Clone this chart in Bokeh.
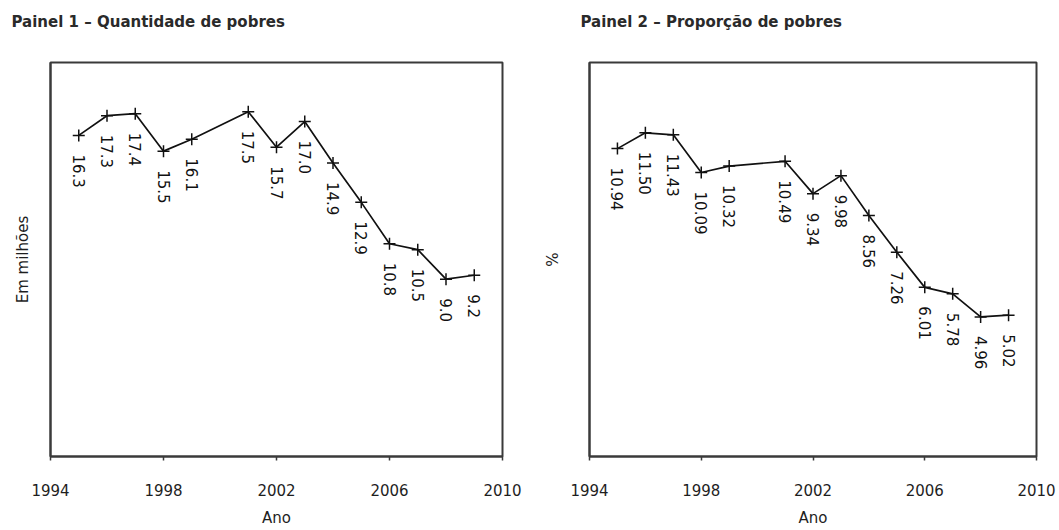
import math
from bokeh.plotting import figure
from bokeh.models import FixedTicker, Range1d, ColumnDataSource, Title
from bokeh.layouts import row
from bokeh.embed import file_html
from bokeh.resources import INLINE
from bokeh.core.properties import value

# ---- data ----
anos = [1995, 1996, 1997, 1998, 1999, 2001, 2002, 2003, 2004, 2005, 2006, 2007, 2008, 2009]
quantidade = [16.3, 17.3, 17.4, 15.5, 16.1, 17.5, 15.7, 17.0, 14.9, 12.9, 10.8, 10.5, 9.0, 9.2]
quantidade_rotulos = ["16.3", "17.3", "17.4", "15.5", "16.1", "17.5", "15.7", "17.0",
                      "14.9", "12.9", "10.8", "10.5", "9.0", "9.2"]
proporcao = [10.94, 11.50, 11.43, 10.09, 10.32, 10.49, 9.34, 9.98, 8.56, 7.26, 6.01, 5.78, 4.96, 5.02]
proporcao_rotulos = ["10.94", "11.50", "11.43", "10.09", "10.32", "10.49", "9.34", "9.98",
                     "8.56", "7.26", "6.01", "5.78", "4.96", "5.02"]
x_ticks = [1994, 1998, 2002, 2006, 2010]

FONT = "DejaVu Sans"
DARK = "#1e1e1e"


def make_panel(title, ylabel, ys, labels, ymax, width, height,
               bl, br, bt, bb, title_offset, ylabel_standoff):
    p = figure(width=width, height=height, output_backend="svg", toolbar_location=None,
               x_range=Range1d(1994, 2010), y_range=Range1d(0, ymax),
               min_border_left=bl, min_border_right=br, min_border_top=bt, min_border_bottom=bb)

    # spacer between the frame and the panel title (closest to the frame)
    p.add_layout(Title(text=" ", text_font=FONT, text_font_size="15px", standoff=12), "above")
    p.add_layout(Title(text=title, align="left", offset=title_offset, standoff=0,
                       text_font=FONT, text_font_size="15px", text_font_style="bold",
                       text_color="#2a2a2a"), "above")

    p.grid.grid_line_color = None
    p.outline_line_color = "#3a3a3a"
    p.outline_line_width = 2
    p.background_fill_color = "white"
    p.border_fill_color = "white"

    xa = p.xaxis[0]
    xa.ticker = FixedTicker(ticks=x_ticks)
    xa.major_tick_out = 4
    xa.major_tick_in = 0
    xa.minor_tick_line_color = None
    xa.axis_line_color = "#3a3a3a"
    xa.axis_line_width = 2
    xa.major_tick_line_color = "#3a3a3a"
    xa.major_tick_line_width = 1.5
    xa.major_label_text_font = FONT
    xa.major_label_text_font_size = "15px"
    xa.major_label_text_color = DARK
    xa.major_label_standoff = 23
    xa.axis_label = "Ano"
    xa.axis_label_text_font = FONT
    xa.axis_label_text_font_size = "15px"
    xa.axis_label_text_font_style = "normal"
    xa.axis_label_text_color = DARK
    xa.axis_label_standoff = 10

    ya = p.yaxis[0]
    ya.ticker = FixedTicker(ticks=[])
    ya.major_tick_out = 0
    ya.major_tick_in = 0
    ya.major_label_standoff = 0
    ya.minor_tick_line_color = None
    ya.major_tick_line_color = None
    ya.axis_line_color = "#3a3a3a"
    ya.axis_line_width = 2
    ya.axis_label = ylabel
    ya.axis_label_text_font = FONT
    ya.axis_label_text_font_size = "15px"
    ya.axis_label_text_font_style = "normal"
    ya.axis_label_text_color = DARK
    ya.axis_label_standoff = ylabel_standoff

    src = ColumnDataSource(dict(x=anos, y=ys, lab=labels))
    p.line("x", "y", source=src, line_color="#111111", line_width=1.7)
    p.scatter("x", "y", source=src, marker="cross", size=12,
              line_color="#111111", line_width=1.5)
    p.text("x", "y", text="lab", source=src, angle=-math.pi / 2,
           text_align="left", text_baseline="middle", y_offset=19,
           text_font=value(FONT), text_font_size="15px", text_color="#111111")
    return p


p1 = make_panel("Painel 1 \u2013 Quantidade de pobres", "Em milh\u00f5es",
                quantidade, quantidade_rotulos, 20, 540, 530,
                50, 38, 62, 74, -39, 19)
p2 = make_panel("Painel 2 \u2013 Propor\u00e7\u00e3o de pobres", "%",
                proporcao, proporcao_rotulos, 14, 518, 530,
                47, 22, 62, 74, -9, 28)

layout = row(p1, p2)
open("out.html", "w").write(file_html(layout, INLINE))
